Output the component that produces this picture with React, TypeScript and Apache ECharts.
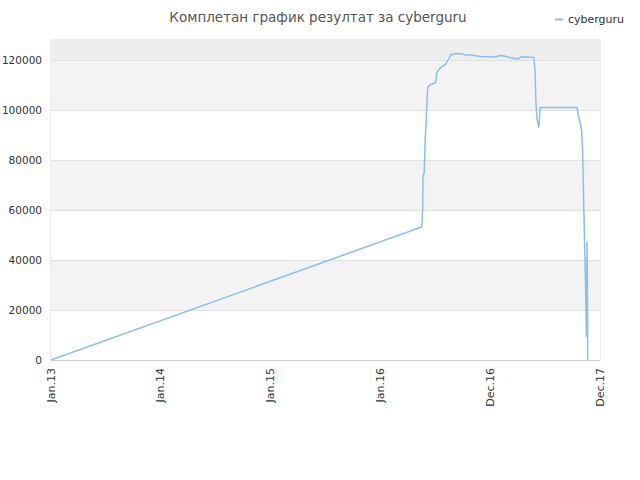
import React, { useEffect, useRef } from "react";
import * as echarts from "echarts";

const xLabels = ["Jan.13", "Jan.14", "Jan.15", "Jan.16", "Dec.16", "Dec.17"];
const seriesName = "cyberguru";

// x is the position along the label axis (0 = Jan.13, 5 = Dec.17)
const posX = [
	0, 3.376, 3.385, 3.388, 3.399, 3.408, 3.417, 3.431, 3.449, 3.504, 3.513, 3.549,
	3.595, 3.622, 3.641, 3.686, 3.732, 3.777, 3.823, 3.914, 4.033, 4.097, 4.124,
	4.188, 4.252, 4.288, 4.334, 4.398, 4.407, 4.416, 4.425, 4.443, 4.455, 4.79,
	4.802, 4.818, 4.833, 4.842, 4.851, 4.86, 4.869, 4.876, 4.882, 4.887, 4.888,
];
const values = [
	0, 53200, 60500, 73400, 75000, 88000, 96300, 109000, 110000, 111000, 115000, 117000,
	118300, 120400, 122000, 122600, 122500, 122000, 122000, 121400, 121200, 121800, 121600,
	120900, 120400, 121300, 121200, 121000, 117000, 103600, 97000, 93000, 101000, 101000,
	98000, 95000, 91700, 83000, 64200, 46000, 28000, 9300, 47400, 24000, 0,
];

const App: React.FC = () => {
	const chartRef = useRef<HTMLDivElement>(null);

	useEffect(() => {
		if (!chartRef.current) return;
		document.body.style.margin = "0";
		const chart = echarts.init(chartRef.current, null, { renderer: "svg" });

		chart.setOption({
			animation: false,
			textStyle: { fontFamily: "DejaVu Sans" },
			title: {
				text: "Комплетан график резултат за cyberguru",
				left: 313,
				textAlign: "center",
				top: 5,
				textStyle: { fontSize: 13.5, fontWeight: "normal", color: "#555" },
			},
			legend: {
				data: [seriesName],
				right: 11,
				top: 9,
				itemWidth: 8,
				itemHeight: 2,
				itemGap: 6,
				icon: "rect",
				textStyle: { fontSize: 11, color: "#333" },
			},
			grid: {
				left: 51,
				right: 40,
				top: 40,
				bottom: 120,
				outerBoundsMode: "none",
				containLabel: false,
				show: true,
				borderColor: "#dddddd",
				borderWidth: 1,
			},
			xAxis: {
				type: "value",
				min: 0,
				max: 5,
				interval: 1,
				axisLine: { show: true, lineStyle: { color: "#d0d0d0" } },
				axisTick: { show: false },
				splitLine: { show: false },
				axisLabel: {
					rotate: 90,
					fontSize: 11,
					color: "#333",
					margin: 8,
					formatter: (v: number) => xLabels[Math.round(v)] ?? "",
				},
			},
			yAxis: {
				type: "value",
				min: 0,
				max: 128000,
				interval: 20000,
				axisLine: { show: false },
				axisTick: { show: false },
				axisLabel: {
					fontSize: 10.5,
					color: "#333",
					margin: 9,
					showMaxLabel: false,
					formatter: (v: number) => String(v),
				},
				splitLine: { show: true, lineStyle: { color: "#e0e0e0" } },
				splitArea: { show: true, areaStyle: { color: ["#ffffff", "#f3f3f3"] } },
			},
			series: [
				{
					name: seriesName,
					type: "line",
					data: posX.map((x, i) => [x, values[i]]),
					showSymbol: false,
					symbol: "none",
					lineStyle: { color: "#8cbef0", width: 1.5 },
					itemStyle: { color: "#8cbef0" },
					markArea: {
						silent: true,
						itemStyle: { color: "#eeeeee" },
						data: [[{ yAxis: 120000 }, { yAxis: 128000 }]],
					},
				},
			],
		});

		return () => {
			chart.dispose();
		};
	}, []);

	return <div ref={chartRef} style={{ width: "640px", height: "480px" }} />;
};

export default App;
